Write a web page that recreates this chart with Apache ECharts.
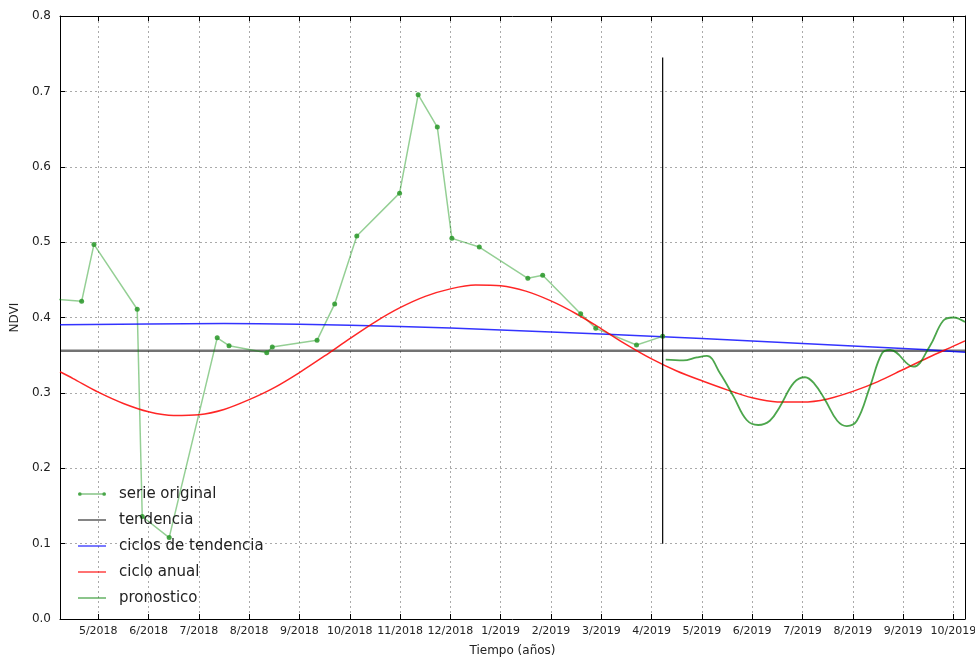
<!DOCTYPE html>
<html>
<head>
<meta charset="utf-8">
<script src="https://cdn.jsdelivr.net/npm/echarts@6/dist/echarts.min.js"></script>
<style>
  html, body { margin: 0; padding: 0; background: #fff; overflow: hidden; }
  #chart { width: 975px; height: 659px; }
</style>
</head>
<body>
<div id="chart"></div>
<script>
// x values are months counted from 5/2018 (0 = 5/2018, 17 = 10/2019)
const monthLabels = ['5/2018', '6/2018', '7/2018', '8/2018', '9/2018', '10/2018', '11/2018', '12/2018',
    '1/2019', '2/2019', '3/2019', '4/2019', '5/2019', '6/2019', '7/2019', '8/2019', '9/2019', '10/2019'];

// serie original
const origX = [-0.8, -0.33, -0.085, 0.775, 0.875, 1.41, 2.365, 2.60, 3.35, 3.46, 4.35, 4.70, 5.14,
    5.99, 6.36, 6.74, 7.03, 7.575, 8.54, 8.835, 9.59, 9.89, 10.70, 11.22];
const origY = [0.424, 0.4215, 0.497, 0.411, 0.136, 0.108, 0.373, 0.3626, 0.3533, 0.361, 0.3697, 0.418, 0.508,
    0.565, 0.6956, 0.6527, 0.505, 0.4935, 0.452, 0.456, 0.405, 0.3856, 0.3635, 0.375];

// tendencia (horizontal) and the vertical cut line
const tendX = [-0.76, 17.23];
const tendY = [0.356, 0.356];
const cutX = [11.22, 11.22];
const cutY = [0.1, 0.745];

// ciclos de tendencia
const blueX = [-0.76, 1, 2.5, 4, 6, 8, 10, 12, 14, 16, 17.23];
const blueY = [0.3905, 0.3915, 0.392, 0.391, 0.388, 0.3835, 0.378, 0.372, 0.3655, 0.359, 0.354];

// ciclo anual
const redX = [-0.76, -0.5, 0, 0.5, 1, 1.5, 2, 2.5, 3, 3.5, 4, 4.5, 5, 5.5, 6, 6.5, 7, 7.5, 8, 8.5,
    9, 9.5, 10, 10.5, 11, 11.5, 12, 12.5, 13, 13.5, 14, 14.5, 15, 15.5, 16, 16.5, 17, 17.23];
const redY = [0.328, 0.319, 0.301, 0.286, 0.275, 0.270, 0.271, 0.278, 0.291, 0.307, 0.327, 0.349, 0.372,
    0.394, 0.413, 0.428, 0.438, 0.443, 0.442, 0.435, 0.422, 0.405, 0.385, 0.364, 0.345, 0.329, 0.316,
    0.304, 0.2935, 0.288, 0.2878, 0.292, 0.302, 0.315, 0.331, 0.347, 0.362, 0.369];

// pronostico
const fcX = [11.28, 11.63, 11.9, 12.1, 12.36, 12.63, 12.89, 13.12, 13.35, 13.55, 13.83, 14.05, 14.23, 14.45,
    14.69, 14.88, 15.08, 15.34, 15.58, 15.74, 16.2, 16.53, 16.8, 17.0, 17.23];
const fcY = [0.344, 0.343, 0.347, 0.349, 0.326, 0.295, 0.264, 0.2574, 0.263, 0.2817, 0.3135, 0.3207, 0.3127, 0.2905,
    0.263, 0.256, 0.263, 0.308, 0.3525, 0.357, 0.3347, 0.362, 0.396, 0.400, 0.394];

const zip = (xs, ys) => xs.map((x, i) => [x, ys[i]]);

const font = 'DejaVu Sans';
const xMin = -0.76, xMax = 17.23;

const chart = echarts.init(document.getElementById('chart'));

const dotIcon = 'path://M2,4.4L28,4.4L28,5.6L2,5.6Z M0,5A2,2,0,1,1,4,5A2,2,0,1,1,0,5Z M26,5A2,2,0,1,1,30,5A2,2,0,1,1,26,5Z';
const lineIcon = 'path://M0,4.3L30,4.3L30,5.7L0,5.7Z';

const option = {
    backgroundColor: '#fff',
    animation: false,
    textStyle: { fontFamily: font },
    grid: { left: 60, right: 10, top: 16, bottom: 40, containLabel: false, outerBoundsMode: 'none' },
    legend: {
        orient: 'vertical',
        left: 73,
        top: 481,
        itemWidth: 28,
        itemHeight: 10,
        itemGap: 10,
        textStyle: { fontFamily: font, fontSize: 15, color: '#222', lineHeight: 16, padding: [0, 0, 0, 8] },
        data: [
            { name: 'serie original', icon: dotIcon },
            { name: 'tendencia', icon: lineIcon, itemStyle: { color: '#444' } },
            { name: 'ciclos de tendencia', icon: lineIcon },
            { name: 'ciclo anual', icon: lineIcon },
            { name: 'pronostico', icon: lineIcon }
        ]
    },
    xAxis: [{
        type: 'value',
        min: xMin,
        max: xMax,
        splitNumber: 18,
        name: 'Tiempo (años)',
        nameLocation: 'middle',
        nameGap: 26,
        nameTextStyle: { fontFamily: font, fontSize: 12, color: '#222' },
        axisLine: { onZero: false, lineStyle: { color: '#000', width: 1 } },
        axisTick: { inside: true, length: 5, lineStyle: { color: '#000' } },
        axisLabel: {
            fontFamily: font, fontSize: 11, color: '#222', margin: 7,
            showMinLabel: false, showMaxLabel: false,
            formatter: v => (Math.abs(v - Math.round(v)) < 1e-6 && monthLabels[Math.round(v)]) || ''
        },
        splitLine: { show: true, lineStyle: { color: '#aaa', type: [2, 3], width: 1 } }
    }, {
        type: 'value',
        position: 'top',
        min: xMin,
        max: xMax,
        splitNumber: 18,
        axisLine: { onZero: false, lineStyle: { color: '#000', width: 1 } },
        axisTick: { inside: true, length: 5, lineStyle: { color: '#000' } },
        axisLabel: { show: false },
        splitLine: { show: false }
    }],
    yAxis: [{
        type: 'value',
        min: 0,
        max: 0.8,
        interval: 0.1,
        name: 'NDVI',
        nameLocation: 'middle',
        nameGap: 36,
        nameTextStyle: { fontFamily: font, fontSize: 12, color: '#222' },
        axisLine: { show: true, onZero: false, lineStyle: { color: '#000', width: 1 } },
        axisTick: { inside: true, length: 5, lineStyle: { color: '#000' } },
        axisLabel: { fontFamily: font, fontSize: 12, color: '#222', margin: 9, formatter: v => v.toFixed(1) },
        splitLine: { show: true, lineStyle: { color: '#aaa', type: [2, 3], width: 1 } }
    }, {
        type: 'value',
        position: 'right',
        min: 0,
        max: 0.8,
        interval: 0.1,
        axisLine: { show: true, onZero: false, lineStyle: { color: '#000', width: 1 } },
        axisTick: { show: true, inside: true, length: 5, lineStyle: { color: '#000' } },
        axisLabel: { show: false },
        splitLine: { show: false }
    }],
    series: [
        {
            name: 'serie original',
            type: 'line',
            data: zip(origX, origY),
            symbol: 'circle',
            symbolSize: 5,
            clip: true,
            itemStyle: { color: 'rgba(40,150,40,0.85)' },
            lineStyle: { color: 'rgba(0,140,0,0.42)', width: 1.5 },
            z: 3
        },
        {
            name: 'tendencia',
            type: 'line',
            data: zip(tendX, tendY),
            symbol: 'none',
            itemStyle: { color: 'rgba(0,0,0,0.55)' },
            lineStyle: { color: 'rgba(0,0,0,0.55)', width: 2.5 },
            z: 2
        },
        {
            name: 'corte',
            type: 'line',
            data: zip(cutX, cutY),
            symbol: 'none',
            lineStyle: { color: '#000', width: 1.2 },
            z: 4
        },
        {
            name: 'ciclos de tendencia',
            type: 'line',
            data: zip(blueX, blueY),
            symbol: 'none',
            smooth: 0.4,
            itemStyle: { color: 'rgba(0,0,255,0.8)' },
            lineStyle: { color: 'rgba(0,0,255,0.8)', width: 1.5 },
            z: 3
        },
        {
            name: 'ciclo anual',
            type: 'line',
            data: zip(redX, redY),
            symbol: 'none',
            smooth: 0.3,
            itemStyle: { color: 'rgba(255,0,0,0.85)' },
            lineStyle: { color: 'rgba(255,0,0,0.85)', width: 1.5 },
            z: 3
        },
        {
            name: 'pronostico',
            type: 'line',
            data: zip(fcX, fcY),
            symbol: 'none',
            smooth: 0.4,
            itemStyle: { color: 'rgba(0,128,0,0.7)' },
            lineStyle: { color: 'rgba(0,128,0,0.7)', width: 1.8 },
            z: 3
        }
    ]
};

chart.setOption(option);

window.addEventListener('resize', function () {
    chart.resize();
});
</script>
</body>
</html>
